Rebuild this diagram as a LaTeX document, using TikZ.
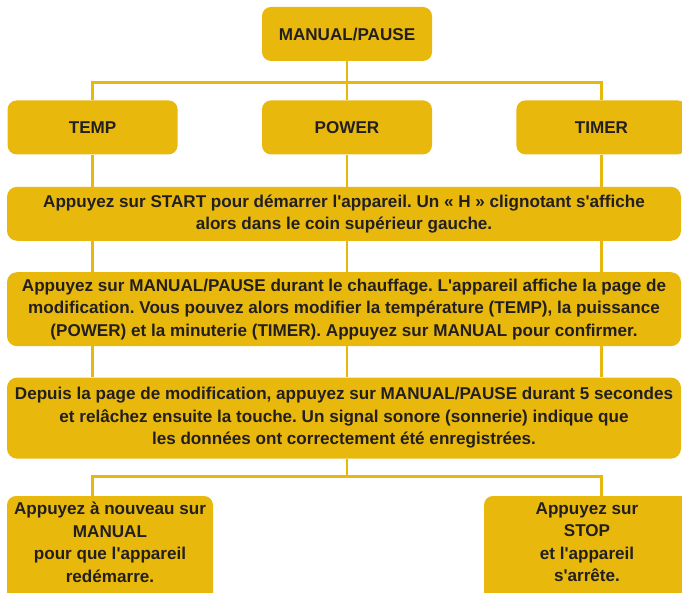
\documentclass[tikz,border=0pt]{standalone}
\usepackage{fontspec}
\setmainfont{Liberation Sans}[Ligatures=TeXOff]
\usepackage{xcolor}
\usetikzlibrary{positioning}

\definecolor{gold}{HTML}{E8B90C}
\definecolor{ink}{HTML}{231F20}
\frenchspacing

\begin{document}
\begin{tikzpicture}[
  x=1pt, y=1pt,
  font=\fontsize{17.1}{22.5}\selectfont\bfseries, text=ink,
  key/.style={rectangle,fill=gold,rounded corners=9pt,align=center,minimum width=170pt,minimum height=54pt,inner sep=0pt},
  wide/.style={rectangle,fill=gold,rounded corners=10pt,align=center,minimum width=674pt,inner sep=0pt},
  small/.style={rectangle,fill=gold,rounded corners=9pt,align=center,minimum width=206pt,minimum height=106pt,inner sep=0pt,text depth=14pt},
  link/.style={draw=gold,line width=2.8pt}
]
\useasboundingbox (0,0) rectangle (682,-593);

\node[key] (top) at (347,-34) {MANUAL/PAUSE};
\node[key,below=39pt of top] (power) {POWER};
\node[key,left=84pt of power] (temp) {TEMP};
\node[key,right=84pt of power] (timer) {TIMER};

\node[wide,below=32pt of power,xshift=-3pt,minimum height=54pt] (start)
  {Appuyez sur START pour démarrer l'appareil. Un « H » clignotant s'affiche\\
   alors dans le coin supérieur gauche.};
\node[wide,below=31pt of start,minimum height=74pt] (modif)
  {Appuyez sur MANUAL/PAUSE durant le chauffage. L'appareil affiche la page de\\
   modification. Vous pouvez alors modifier la température (TEMP), la puissance\\
   (POWER) et la minuterie (TIMER). Appuyez sur MANUAL pour confirmer.};
\node[wide,below=31pt of modif,minimum height=81pt] (save)
  {Depuis la page de modification, appuyez sur MANUAL/PAUSE durant 5 secondes\\
   et relâchez ensuite la touche. Un signal sonore (sonnerie) indique que\\
   les données ont correctement été enregistrées.};

\node[small,below right=37pt and 0pt of save.south west] (restart)
  {Appuyez à nouveau sur\\MANUAL\\pour que l'appareil\\redémarre.};
\node[small,below left=37pt and -9pt of save.south east] (stop)
  {Appuyez sur\\STOP\\et l'appareil\\s'arrête.};

% connectors
\draw[link] (top.south) -- ++(0,-21pt) coordinate (hub);
\draw[link] (temp.north) |- (hub) -| (timer.north);
\draw[link] (hub) -- (power.north);
\foreach \col in {temp,power,timer} {
  \draw[link] (\col.south) -- (\col.south |- start.north);
  \draw[link] (\col.south |- start.south) -- (\col.south |- modif.north);
  \draw[link] (\col.south |- modif.south) -- (\col.south |- save.north);
}
\draw[link] (power.south |- save.south) -- ++(0,-18pt) coordinate (split);
\draw[link] (restart.north -| temp.south) |- (split) -| (stop.north -| timer.south);
\end{tikzpicture}
\end{document}
